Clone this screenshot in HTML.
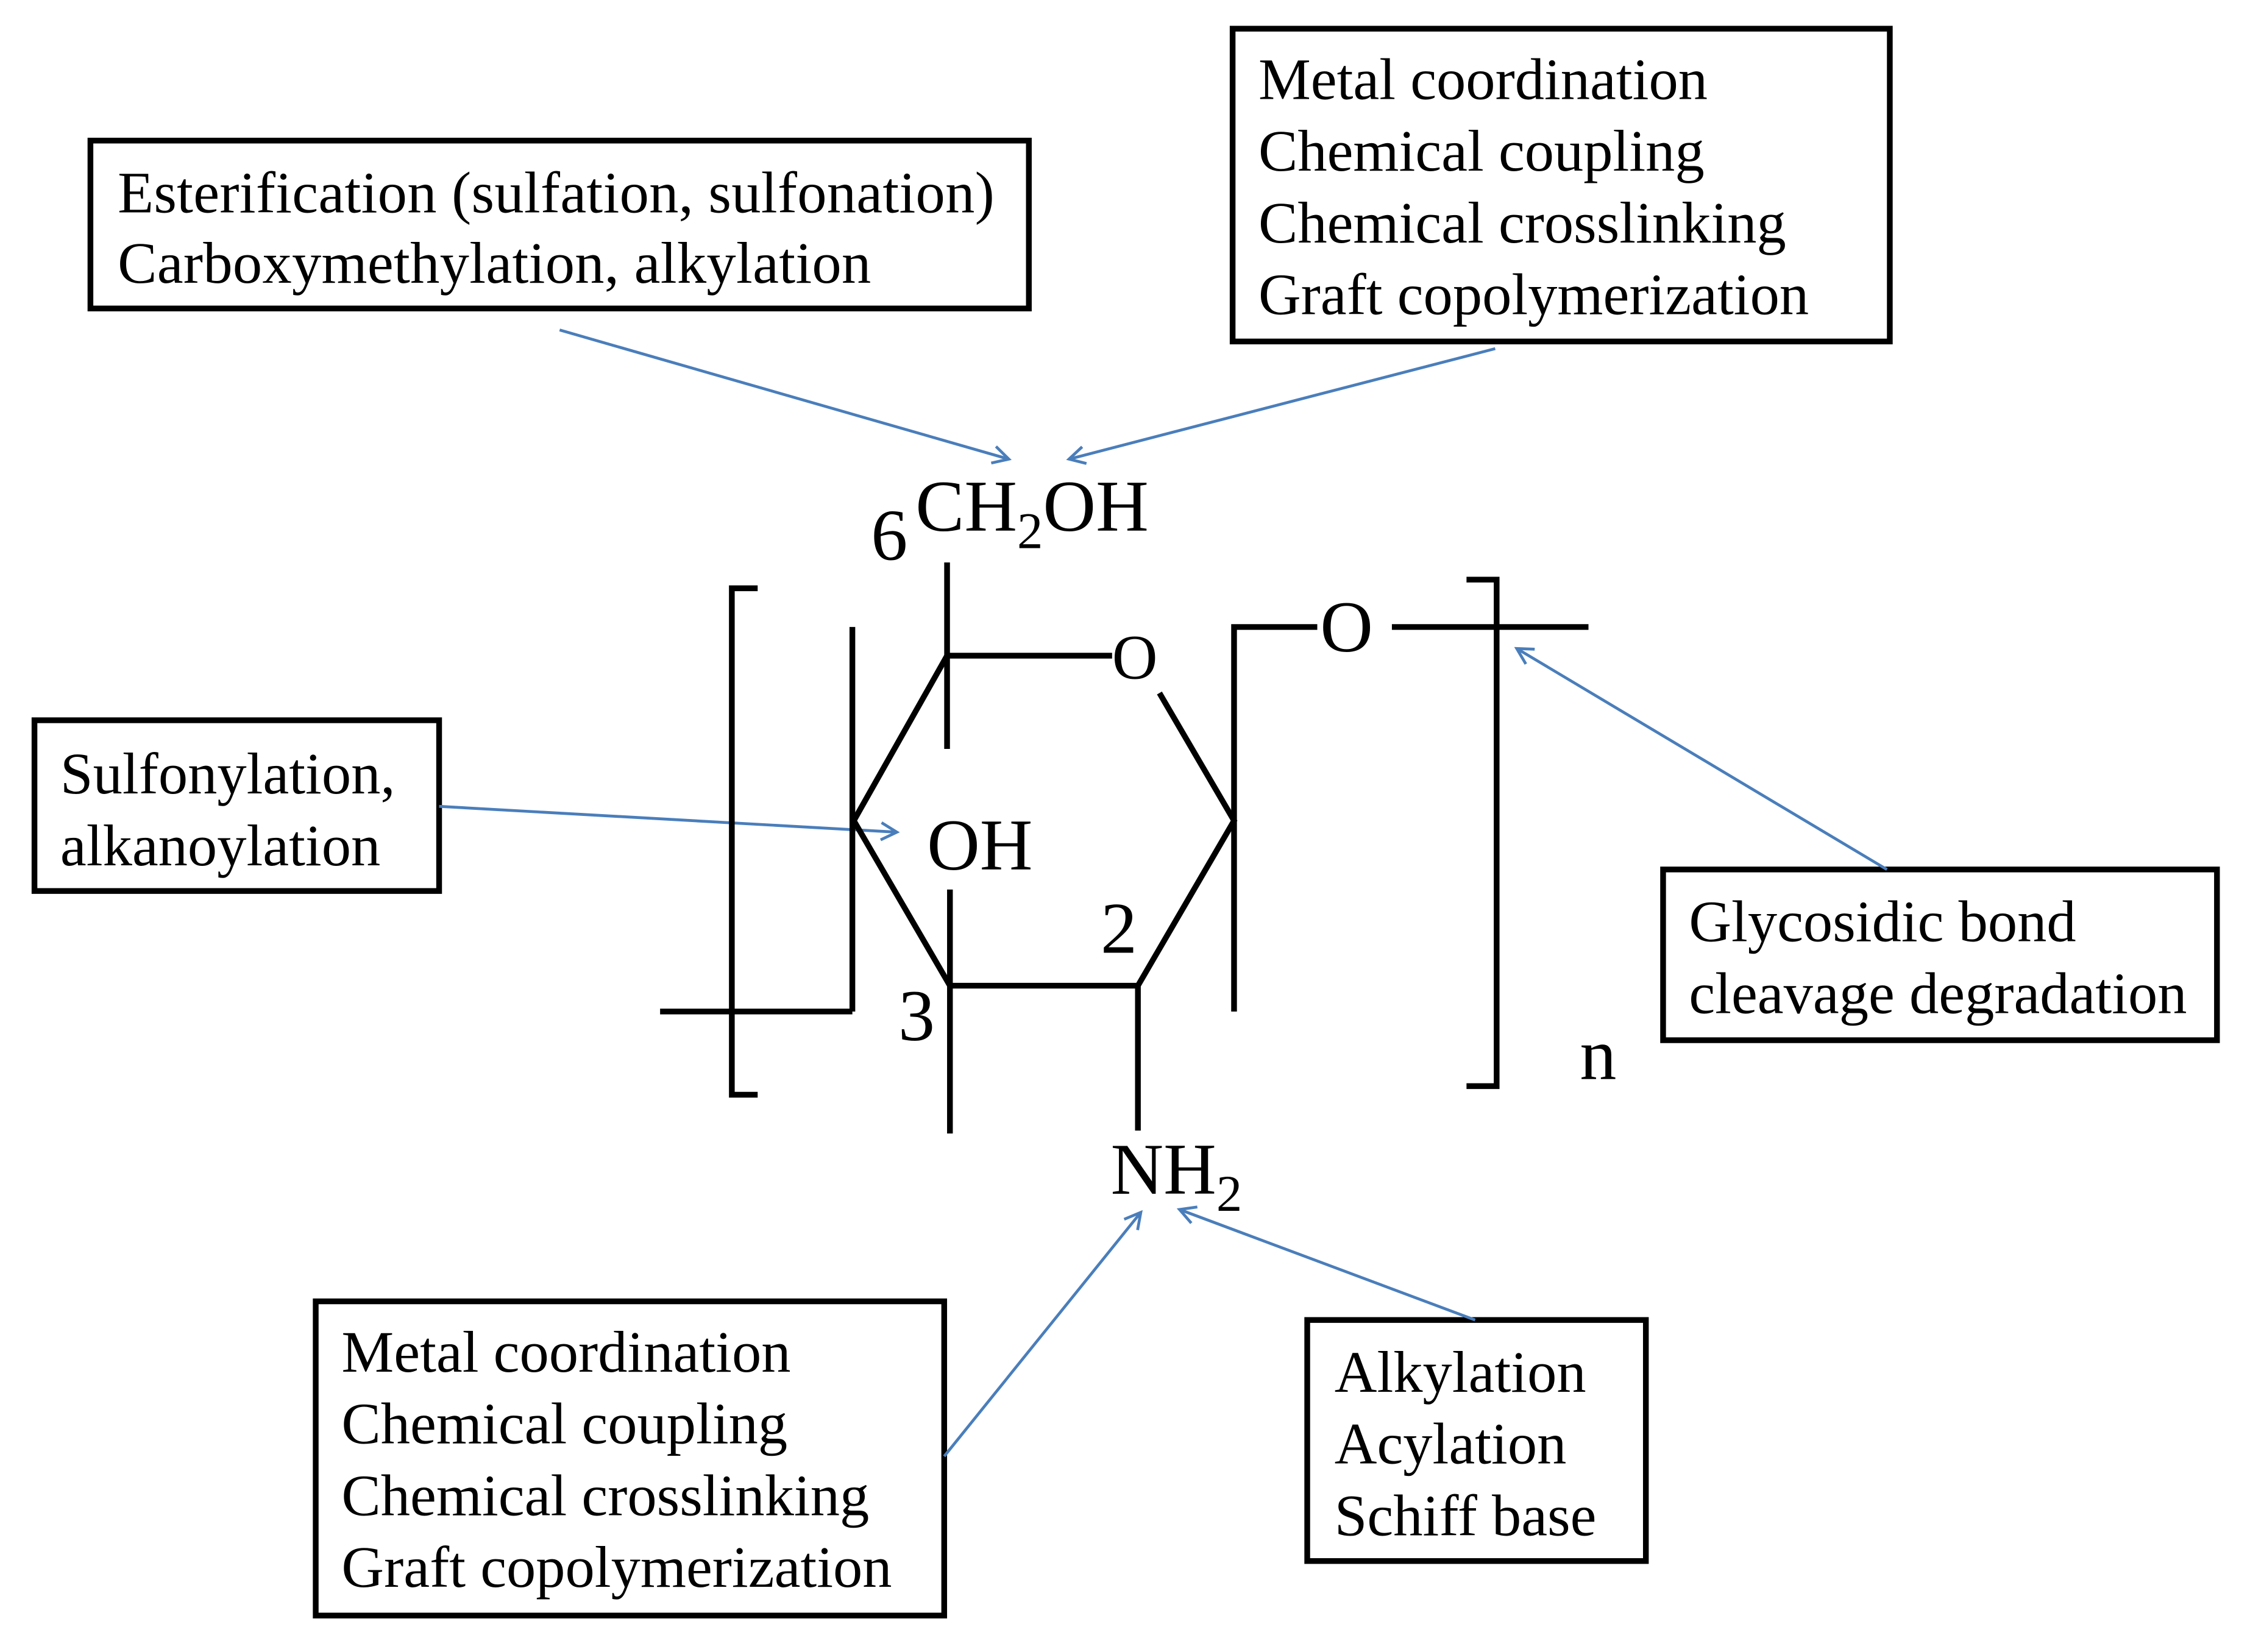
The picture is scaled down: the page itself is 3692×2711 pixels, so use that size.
<!DOCTYPE html>
<html><head><meta charset="utf-8"><style>
html,body{margin:0;padding:0;background:#fff;}
svg{display:block;}
text{font-family:"Liberation Serif",serif;fill:#000;}
</style></head><body>
<svg width="3692" height="2711" viewBox="0 0 1568 1151.4" xmlns="http://www.w3.org/2000/svg">
<defs>
<marker id="a" markerWidth="14" markerHeight="14" refX="12" refY="7" orient="auto" markerUnits="userSpaceOnUse">
<path d="M1,1 L12,7 L1,13" fill="none" stroke="#4a7ebb" stroke-width="2"/>
</marker>
</defs>
<g fill="none" stroke="#000" stroke-width="4">
<rect x="63" y="98" width="654" height="117"/>
<rect x="859" y="20" width="458" height="218"/>
<rect x="24" y="502" width="282" height="119"/>
<rect x="1159" y="606" width="386" height="119"/>
<rect x="220" y="907" width="438" height="219"/>
<rect x="911" y="920" width="236" height="168"/>
</g>
<g font-size="41">
<text x="82" y="148" textLength="611">Esterification (sulfation, sulfonation)</text>
<text x="82" y="197" textLength="525">Carboxymethylation, alkylation</text>
<text x="877" y="69">Metal coordination</text>
<text x="877" y="119">Chemical coupling</text>
<text x="877" y="169">Chemical crosslinking</text>
<text x="877" y="219">Graft copolymerization</text>
<text x="42" y="553">Sulfonylation,</text>
<text x="42" y="603">alkanoylation</text>
<text x="1177" y="656">Glycosidic bond</text>
<text x="1177" y="706">cleavage degradation</text>
<text x="238" y="956">Metal coordination</text>
<text x="238" y="1006">Chemical coupling</text>
<text x="238" y="1056">Chemical crosslinking</text>
<text x="238" y="1106">Graft copolymerization</text>
<text x="930" y="970">Alkylation</text>
<text x="930" y="1020">Acylation</text>
<text x="930" y="1070">Schiff base</text>
</g>
<g stroke="#4a7ebb" stroke-width="2" fill="none" marker-end="url(#a)">
<line x1="390" y1="230" x2="703" y2="320"/>
<line x1="1042" y1="243" x2="745" y2="320"/>
<line x1="306" y1="562" x2="625" y2="580"/>
<line x1="1315" y1="606" x2="1057" y2="452"/>
<line x1="658" y1="1015" x2="795" y2="845"/>
<line x1="1028" y1="920" x2="822" y2="843"/>
</g>
<g fill="none" stroke="#000" stroke-width="4">
<polyline points="775,457 660,457 595,572 662,687 793,687 860,572 808,483"/>
<polyline points="528,410 510,410 510,763 528,763"/>
<polyline points="1022,404 1043,404 1043,757 1022,757"/>
<line x1="660" y1="392" x2="660" y2="522"/>
<line x1="662" y1="620" x2="662" y2="790"/>
<line x1="793" y1="687" x2="793" y2="788"/>
<line x1="594" y1="437" x2="594" y2="705"/>
<line x1="460" y1="705" x2="594" y2="705"/>
<polyline points="860,705 860,437 918,437"/>
<line x1="970" y1="437" x2="1107" y2="437"/>
</g>
<g font-size="51">
<text x="607" y="390">6</text>
<text x="638" y="370">CH<tspan font-size="36" dy="12">2</tspan><tspan dy="-12">OH</tspan></text>
<text x="775" y="473" font-size="44">O</text>
<text x="920" y="454">O</text>
<text x="646" y="606">OH</text>
<text x="767" y="664">2</text>
<text x="626" y="725">3</text>
<text x="774" y="832">NH<tspan font-size="36" dy="12">2</tspan></text>
<text x="1101" y="752">n</text>
</g>
</svg>
</body></html>
